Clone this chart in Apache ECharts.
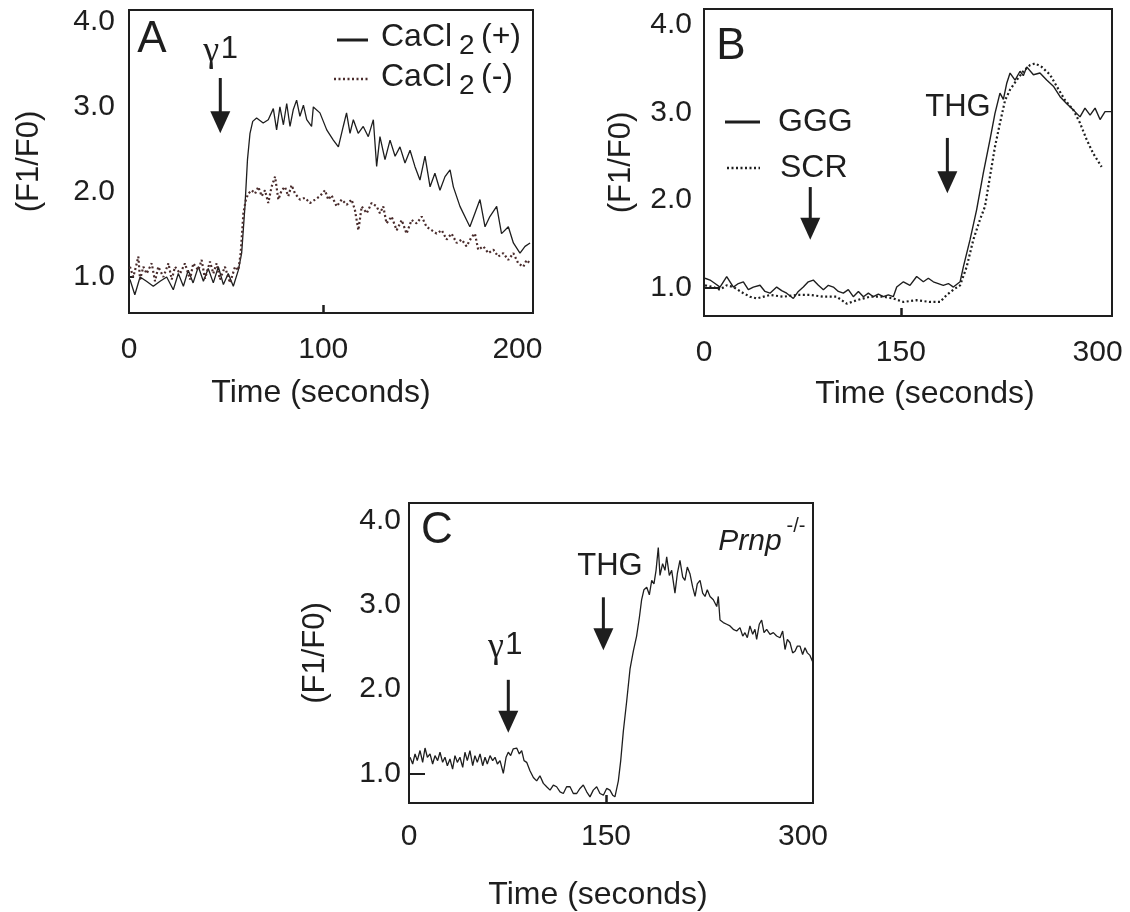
<!DOCTYPE html>
<html>
<head>
<meta charset="utf-8">
<script src="https://cdn.jsdelivr.net/npm/echarts@6/dist/echarts.min.js"></script>
<style>
  html, body { margin: 0; padding: 0; background: #ffffff; }
  #chart { width: 1130px; height: 912px; }
</style>
</head>
<body>
<div id="chart"></div>
<script>
// ---- Panel A: gamma1 stimulation with / without extracellular CaCl2 ----
const timeA_plus = [0.5,3,5.7,9,12.5,16,19.4,22.8,25.4,28,30.5,33,35.7,38.3,40.8,43.4,46,48.6,51.1,53.7,56.3,58,59.7,61,62.3,63.7,65.7,69.1,71.7,74.3,76,77.7,79.5,81.2,82.9,84.6,86.3,88,89.8,91.5,94,94.9,98.3,101.8,105.2,107.8,110.3,112,113.8,115.5,118,120.6,123.2,125.8,127.5,129.2,131.8,134.4,137,139.5,142.1,144.7,147.2,149.8,152.4,155,157.5,160.1,162.7,165.3,167,170.4,173.8,175.5,178.1,180.7,183.3,185.8,189.3,191.8,195.3,197.9,201.3,203.9,206.5];
const ratioA_plus = [0.97,0.79,1.0,0.95,0.89,0.95,1.0,0.85,1.04,0.89,1.08,0.93,1.12,0.95,1.10,0.93,1.12,0.91,1.04,0.89,1.08,1.28,1.83,2.38,2.69,2.83,2.87,2.81,2.85,2.98,2.73,3.0,2.79,3.04,2.77,2.97,3.08,2.89,3.02,2.85,2.77,3.0,2.93,2.73,2.61,2.53,2.77,2.93,2.69,2.85,2.69,2.77,2.65,2.85,2.3,2.65,2.38,2.61,2.42,2.53,2.34,2.49,2.3,2.14,2.42,2.06,2.22,2.02,2.18,2.26,2.06,1.83,1.67,1.59,1.75,1.91,1.59,1.71,1.83,1.51,1.59,1.40,1.28,1.36,1.40];

const timeA_minus = [0.5,2.2,4.0,4.8,5.7,7.4,9.1,11.7,13.4,15.1,17.7,20.3,22.0,23.7,26.3,28.8,31.4,33.1,35.7,37.4,39.1,41.7,43.4,45.1,46.8,49.4,52.0,54.6,56.3,57.5,58.9,60.2,61.4,63.2,64.9,66.6,68.3,70.0,71.7,73.4,75.2,76.9,78.6,80.3,82.0,83.7,85.5,88.0,90.6,93.2,95.8,98.3,100.9,102.6,104.3,106.9,109.5,112.1,114.6,116.3,118.1,119.8,122.4,124.9,127.5,129.2,130.9,132.6,135.2,137.8,140.4,142.9,145.5,148.1,150.7,153.2,155.8,158.4,161.0,163.5,166.1,168.7,171.3,173.8,176.4,178.1,179.8,182.4,185.0,187.6,190.1,192.7,195.3,197.9,200.4,203.0,204.7,206.4];
const ratioA_minus = [1.12,1.00,1.16,1.24,0.97,1.12,1.04,1.16,0.95,1.12,1.00,1.16,0.97,1.12,1.04,1.16,0.97,1.16,1.08,1.20,0.98,1.18,1.04,1.16,0.97,1.12,0.93,1.12,1.08,1.28,1.75,1.91,1.98,2.02,1.98,2.06,1.95,2.02,1.87,2.06,2.18,1.91,2.02,2.06,1.95,2.08,1.98,1.91,1.93,1.87,1.91,1.95,2.02,1.91,1.96,1.83,1.91,1.85,1.91,1.79,1.55,1.83,1.75,1.87,1.83,1.75,1.83,1.63,1.71,1.55,1.67,1.51,1.67,1.63,1.71,1.59,1.55,1.51,1.55,1.44,1.51,1.40,1.44,1.36,1.47,1.51,1.32,1.36,1.28,1.32,1.24,1.28,1.20,1.28,1.16,1.12,1.20,1.16];

// ---- Panel B: THG response after GGG or SCR peptide ----
const timeB_ggg = [0.8,4.6,8.4,12.2,17.3,22.4,26.2,30.0,33.8,37.6,42.7,46.5,50.3,55.4,59.2,63.0,68.1,71.9,75.7,79.5,83.3,87.2,91.0,94.8,98.6,102.4,106.2,110.0,113.8,117.7,121.5,125.3,129.1,132.9,136.7,140.5,144.3,146.9,152.0,157.0,162.1,167.2,171.0,174.8,178.6,182.4,186.3,190.1,195.2,197.7,202.8,207.8,212.9,218.0,221.8,225.6,228.2,230.7,233.3,237.1,240.9,243.4,246.0,251.1,256.1,261.2,266.3,271.4,276.5,281.5,286.6,290.4,294.3,298.1,301.9,305.7,310.8];
const ratioB_ggg = [1.11,1.09,1.05,1.01,1.13,1.01,1.05,1.07,0.98,1.01,1.03,0.96,0.94,1.01,0.97,0.94,0.88,0.96,1.01,1.07,1.09,1.03,0.98,1.03,1.01,0.96,0.94,0.98,0.90,0.96,0.90,0.94,0.90,0.93,0.90,0.92,0.90,1.01,1.07,1.03,1.13,1.07,1.11,1.07,1.05,1.03,1.05,1.01,1.07,1.24,1.55,1.89,2.31,2.69,2.99,3.22,3.15,3.33,3.45,3.37,3.47,3.42,3.52,3.43,3.45,3.37,3.30,3.18,3.10,3.03,2.95,3.05,2.97,3.05,2.92,3.01,3.01];

const timeB_scr = [0.8,7.1,12.2,17.3,22.4,30.0,35.1,40.2,50.3,60.5,70.6,80.8,91.0,101.1,108.8,116.4,126.5,136.7,144.3,152.0,162.1,172.3,179.9,185.0,190.1,195.2,200.2,205.3,210.4,214.2,218.0,221.8,225.6,229.5,233.3,238.4,243.4,248.5,252.3,257.4,263.8,268.8,275.2,281.5,286.6,291.7,296.8,303.1];
const ratioB_scr = [1.03,1.01,0.98,1.03,1.01,0.94,0.90,0.88,0.92,0.90,0.92,0.92,0.90,0.90,0.82,0.86,0.90,0.90,0.88,0.84,0.86,0.84,0.84,0.92,0.98,1.03,1.24,1.55,1.78,1.93,2.27,2.61,2.88,3.14,3.26,3.37,3.47,3.54,3.56,3.52,3.43,3.30,3.14,3.03,2.88,2.69,2.53,2.38];

// ---- Panel C: Prnp-/- cells, gamma1 then THG ----
const timeC = [0.8,2.8,4.6,6.3,8.4,10.4,12.2,14.0,16.0,18.0,19.8,21.8,23.6,25.6,27.4,29.2,31.2,33.2,35.0,36.8,38.8,40.9,42.6,44.4,46.4,48.5,50.2,52.0,54.1,56.1,57.9,59.6,61.7,63.7,65.5,67.3,69.3,71.8,73.9,75.6,77.4,79.4,82.0,84.0,85.8,87.6,89.6,92.1,94.7,97.2,99.7,102.3,104.8,107.4,109.9,112.4,115.0,117.5,120.0,122.6,125.1,127.7,130.2,132.7,135.3,137.8,140.3,142.9,145.4,148.0,150.5,153.0,155.1,156.8,159.4,161.2,163.2,165.7,168.3,170.8,173.3,175.4,177.1,178.9,181.0,183.0,184.8,186.5,188.1,189.8,191.1,193.1,194.9,196.2,198.2,200.0,202.5,204.3,206.3,208.4,210.1,211.9,213.9,216.0,217.8,219.5,221.6,223.6,225.4,227.1,229.2,231.7,234.3,235.5,236.8,239.3,241.9,244.4,246.9,249.5,252.0,254.1,255.8,257.6,259.6,261.7,263.4,264.7,266.7,268.5,270.3,272.3,274.9,277.4,279.9,282.5,284.5,286.3,288.1,290.1,292.1,293.9,295.7,297.7,299.7,301.5,303.3,305.3,307.5];
const ratioC = [1.19,1.11,1.23,1.15,1.27,1.13,1.30,1.19,1.23,1.11,1.21,1.15,1.25,1.13,1.19,1.09,1.17,1.05,1.21,1.13,1.19,1.07,1.25,1.15,1.27,1.09,1.21,1.13,1.23,1.09,1.19,1.11,1.21,1.15,1.19,1.11,1.15,1.00,1.19,1.25,1.21,1.29,1.30,1.23,1.27,1.15,1.13,1.03,0.95,0.91,0.97,0.88,0.84,0.80,0.86,0.84,0.78,0.76,0.84,0.84,0.76,0.76,0.82,0.86,0.78,0.72,0.80,0.84,0.76,0.74,0.82,0.80,0.74,0.72,0.91,1.15,1.50,1.85,2.24,2.45,2.63,2.85,3.06,3.18,3.21,3.12,3.29,3.25,3.41,3.68,3.35,3.49,3.41,3.57,3.35,3.41,3.14,3.37,3.53,3.33,3.29,3.45,3.37,3.21,3.10,3.25,3.29,3.14,3.10,3.18,3.10,3.06,2.98,3.10,2.82,2.79,2.77,2.75,2.71,2.69,2.73,2.63,2.67,2.61,2.75,2.65,2.71,2.59,2.77,2.82,2.67,2.71,2.65,2.67,2.63,2.61,2.69,2.47,2.59,2.55,2.43,2.45,2.51,2.51,2.41,2.49,2.43,2.40,2.32];

// ---- Axis ticks and labels ----
const yTickLabels = [1, 2, 3, 4];
const xTickLabelsA = [0, 100, 200];
const xTickLabelsBC = [0, 150, 300];

// ---- Styling ----
const INK = '#1e1e1e';
const DOT_A = '#4a2c2c';
const SANS = '"Liberation Sans", Arial, Helvetica, sans-serif';
const SERIF = '"Liberation Serif", "Times New Roman", serif';

const chart = echarts.init(document.getElementById('chart'), null, { renderer: 'canvas' });
const pairs = (ts, vs) => ts.map((t, i) => [t, vs[i]]);

function xAxisFor(gridIndex, max, labels, midTick, tickLen, labelMargin, nameGap, namePad) {
  return {
    type: 'value', gridIndex, min: 0, max,
    axisLine: { show: false },
    splitLine: { show: false },
    axisTick: { show: true, inside: true, length: tickLen, customValues: [midTick],
                lineStyle: { color: INK, width: 2.5 } },
    axisLabel: { customValues: labels, fontSize: 30, fontFamily: SANS, color: INK, margin: labelMargin },
    name: 'Time (seconds)', nameLocation: 'middle', nameGap,
    nameTextStyle: { fontSize: 32, fontFamily: SANS, color: INK, padding: namePad }
  };
}
function yAxisFor(gridIndex, min, max, tickLen, labelMargin, nameGap) {
  return {
    type: 'value', gridIndex, min, max,
    axisLine: { show: false },
    splitLine: { show: false },
    axisTick: { show: tickLen > 0, inside: true, length: tickLen, customValues: [1],
                lineStyle: { color: INK, width: 2 } },
    axisLabel: { customValues: yTickLabels, fontSize: 30, fontFamily: SANS, color: INK,
                 margin: labelMargin, formatter: v => v.toFixed(1) },
    name: '(F1/F0)', nameLocation: 'middle', nameGap, nameRotate: 90,
    nameTextStyle: { fontSize: 31, fontFamily: SANS, color: INK }
  };
}
const gridStyle = { show: true, borderColor: INK, borderWidth: 2, backgroundColor: 'transparent' };

chart.setOption({
  animation: false,
  backgroundColor: '#ffffff',
  grid: [
    Object.assign({ left: 129, top: 10, width: 404, height: 303 }, gridStyle),
    Object.assign({ left: 704, top: 9, width: 408, height: 307 }, gridStyle),
    Object.assign({ left: 409, top: 503, width: 404, height: 303 }, gridStyle)
  ],
  xAxis: [
    xAxisFor(0, 208, xTickLabelsA, 100, 8, 22, 64, [0, 20, 0, 0]),
    xAxisFor(1, 311, xTickLabelsBC, 150, 8, 22, 62, [0, 0, 0, 34]),
    xAxisFor(2, 307.6, xTickLabelsBC, 150, 8, 19, 76, [0, 26, 0, 0])
  ],
  yAxis: [
    yAxisFor(0, 0.576, 4.14, 5, 14, 84),
    yAxisFor(1, 0.68, 4.18, 16, 12, 67),
    yAxisFor(2, 0.647, 4.21, 16, 8, 78)
  ],
  series: [
    { name: 'CaCl2 (+)', type: 'line', xAxisIndex: 0, yAxisIndex: 0, data: pairs(timeA_plus, ratioA_plus),
      showSymbol: false, silent: true, lineStyle: { color: INK, width: 1.3 } },
    { name: 'CaCl2 (-)', type: 'line', xAxisIndex: 0, yAxisIndex: 0, data: pairs(timeA_minus, ratioA_minus),
      showSymbol: false, silent: true, lineStyle: { color: DOT_A, width: 2.2, type: [2, 2.5] } },
    { name: 'GGG', type: 'line', xAxisIndex: 1, yAxisIndex: 1, data: pairs(timeB_ggg, ratioB_ggg),
      showSymbol: false, silent: true, lineStyle: { color: INK, width: 1.4 } },
    { name: 'SCR', type: 'line', xAxisIndex: 1, yAxisIndex: 1, data: pairs(timeB_scr, ratioB_scr),
      showSymbol: false, silent: true, lineStyle: { color: INK, width: 2.2, type: [2, 2.5] } },
    { name: 'Prnp-/-', type: 'line', xAxisIndex: 2, yAxisIndex: 2, data: pairs(timeC, ratioC),
      showSymbol: false, silent: true, lineStyle: { color: INK, width: 1.3 } }
  ]
});

// ---- Annotations: stimulus arrows, panel letters, legends ----
const toPx = (g, t, v) => chart.convertToPixel({ gridIndex: g }, [t, v]);

function text(x, y, str, size, opts) {
  opts = opts || {};
  return {
    type: 'text', x, y, silent: true,
    style: {
      text: str, fontSize: size, fontFamily: opts.family || SANS, fontStyle: opts.italic ? 'italic' : 'normal',
      fill: INK, align: opts.align || 'center', verticalAlign: 'middle',
      textAlign: opts.align || 'center', textVerticalAlign: 'middle'
    }
  };
}
function arrow(g, t, vTop, vTip) {
  const [x, y1] = toPx(g, t, vTop);
  const y2 = toPx(g, t, vTip)[1];
  return [
    { type: 'line', silent: true, shape: { x1: x, y1: y1, x2: x, y2: y2 - 16 },
      style: { stroke: INK, lineWidth: 3 } },
    { type: 'polygon', silent: true, shape: { points: [[x - 10, y2 - 22], [x + 10, y2 - 22], [x, y2]] },
      style: { fill: INK } }
  ];
}
function gammaLabel(g, t, v) {
  const [x, y] = toPx(g, t, v);
  return [text(x - 9, y + 2, 'γ', 36, { family: SERIF }), text(x + 9, y, '1', 31)];
}
function legendLine(x1, x2, y, dotted) {
  return { type: 'line', silent: true, shape: { x1, y1: y, x2, y2: y },
    style: { stroke: dotted ? DOT_A : INK, lineWidth: dotted ? 2.5 : 3, lineDash: dotted ? [2, 2.5] : null } };
}
function cacl(x, y, sign) {
  return [
    text(x, y, 'CaCl', 32, { align: 'left' }),
    text(x + 78, y + 9, '2', 28, { align: 'left' }),
    text(x + 100, y, sign, 32, { align: 'left' })
  ];
}

const g = [];
// Panel A
g.push(text(152, 40, 'A', 44));
g.push(...gammaLabel(0, 47, 3.68));
g.push(...arrow(0, 47, 3.34, 2.69));
g.push(legendLine(337, 368, 40, false));
g.push(...cacl(381, 37, '(+)'));
g.push(legendLine(334, 368, 79, true));
g.push(...cacl(381, 77, '(-)'));
// Panel B
g.push(text(731, 47, 'B', 44));
g.push(legendLine(725, 760, 122, false));
g.push(text(778, 122, 'GGG', 32, { align: 'left' }));
{ const l = legendLine(727, 760, 168, true); l.style.stroke = INK; g.push(l); }
g.push(text(780, 168, 'SCR', 32, { align: 'left' }));
g.push(...arrow(1, 81, 2.15, 1.55));
{ const [x, y] = toPx(1, 193.6, 3.06); g.push(text(x, y, 'THG', 31)); }
g.push(...arrow(1, 185.5, 2.71, 2.08));
// Panel C
g.push(text(437, 531, 'C', 44));
g.push(text(750, 542, 'Prnp', 30, { italic: true }));
g.push(text(796, 526, '-/-', 20));
{ const [x, y] = toPx(2, 153, 3.46); g.push(text(x, y, 'THG', 31)); }
g.push(...arrow(2, 148, 3.09, 2.46));
g.push(...gammaLabel(2, 73, 2.52));
g.push(...arrow(2, 75.6, 2.11, 1.48));

chart.setOption({ graphic: { elements: g } });
</script>
</body>
</html>
